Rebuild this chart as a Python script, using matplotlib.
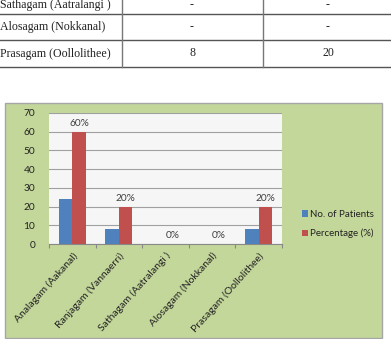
import numpy as np
import matplotlib.pyplot as plt
from matplotlib.patches import Rectangle

# datos
categorias = ['Analagam (Aakanal)', 'Ranjagam (Vannaerri)', 'Sathagam (Aatralangi )',
              'Alosagam (Nokkanal)', 'Prasagam (Oollolithee)']
pacientes = [24, 8, 0, 0, 8]
porcentaje = [60, 20, 0, 0, 20]
etiquetas = ['60%', '20%', '0%', '0%', '20%']
series = ['No. of Patients', 'Percentage (%)']
yticks = [0, 10, 20, 30, 40, 50, 60, 70]

# filas de la tabla que se ve arriba
filas_tabla = ['Sathagam (Aatralangi )', 'Alosagam (Nokkanal)', 'Prasagam (Oollolithee)']
col2_tabla = ['-', '-', '8']
col3_tabla = ['-', '-', '20']

W, H = 391, 339
fig = plt.figure(figsize=(W/100, H/100), dpi=100)
fig.patch.set_facecolor('white')

def fx(px):
    return px / W

def fy(py):
    return 1 - py / H

# tabla
tab = fig.add_axes([0, 0, 1, 1], zorder=0)
tab.set_xlim(0, W)
tab.set_ylim(H, 0)
tab.axis('off')
for yl in [14, 39.5, 67]:
    tab.plot([0, W], [yl, yl], color='#555555', lw=1.0)
for xl in [122, 263]:
    tab.plot([xl, xl], [0, 67], color='#777777', lw=1.0)
y_filas = [5, 27, 53.5]
for i in range(len(filas_tabla)):
    tab.text(0, y_filas[i], filas_tabla[i], ha='left', va='center',
             fontsize=8.6, family='Liberation Serif', color='#222222')
    tab.text(192, y_filas[i], col2_tabla[i], ha='center', va='center',
             fontsize=8.6, family='Liberation Serif', color='#222222')
    tab.text(328, y_filas[i], col3_tabla[i], ha='center', va='center',
             fontsize=8.6, family='Liberation Serif', color='#222222')

# fondo verde del grafico
tab.add_patch(Rectangle((5, 103), 377, 235, facecolor='#c4d79b',
                        edgecolor='#a6a6a6', lw=1.0))

# grafico de barras
ax = fig.add_axes([fx(49), fy(244), fx(282 - 49), (244 - 113) / H], zorder=1)
ax.set_facecolor('#f6f6f6')
x = np.arange(len(categorias))
w = 0.29
b1 = ax.bar(x - w/2, pacientes, w, color='#4f81bd', label=series[0], zorder=3)
b2 = ax.bar(x + w/2, porcentaje, w, color='#c0504d', label=series[1], zorder=3)
for i in range(len(categorias)):
    ax.text(x[i] + w/2, porcentaje[i] + 2, etiquetas[i], ha='center', va='bottom',
            fontsize=7.3, family='Lato', color='#404040')

ax.set_xlim(-0.5, len(categorias) - 0.5)
ax.set_ylim(0, 70)
ax.set_yticks(yticks)
ax.yaxis.grid(True, color='#a0a0a0', lw=0.8, zorder=0)
ax.set_xticks(np.arange(-0.5, len(categorias), 1), minor=False)
ax.set_xticklabels([])
ax.set_xticks(x, minor=True)
ax.set_xticklabels(categorias, minor=True, rotation=48, ha='right',
                   rotation_mode='anchor', fontsize=7.5, family='Lato', color='#222222')
ax.tick_params(axis='x', which='major', length=3, color='#888888')
ax.tick_params(axis='x', which='minor', length=0, pad=5)
ax.tick_params(axis='y', length=0, labelsize=7.3, labelcolor='#222222', pad=10)
for lab in ax.get_yticklabels():
    lab.set_family('Lato')
for s in ['top', 'right', 'left']:
    ax.spines[s].set_visible(False)
ax.spines['bottom'].set_color('#888888')

leg = fig.legend(handles=[b1, b2], loc='center left',
                 bbox_to_anchor=(fx(293), fy(224)), frameon=False,
                 handlelength=0.6, handleheight=0.6, handletextpad=0.3,
                 labelspacing=1.0, prop={'family': 'Lato', 'size': 7})
for t in leg.get_texts():
    t.set_color('#222222')

fig.savefig('out.png', dpi=100)
